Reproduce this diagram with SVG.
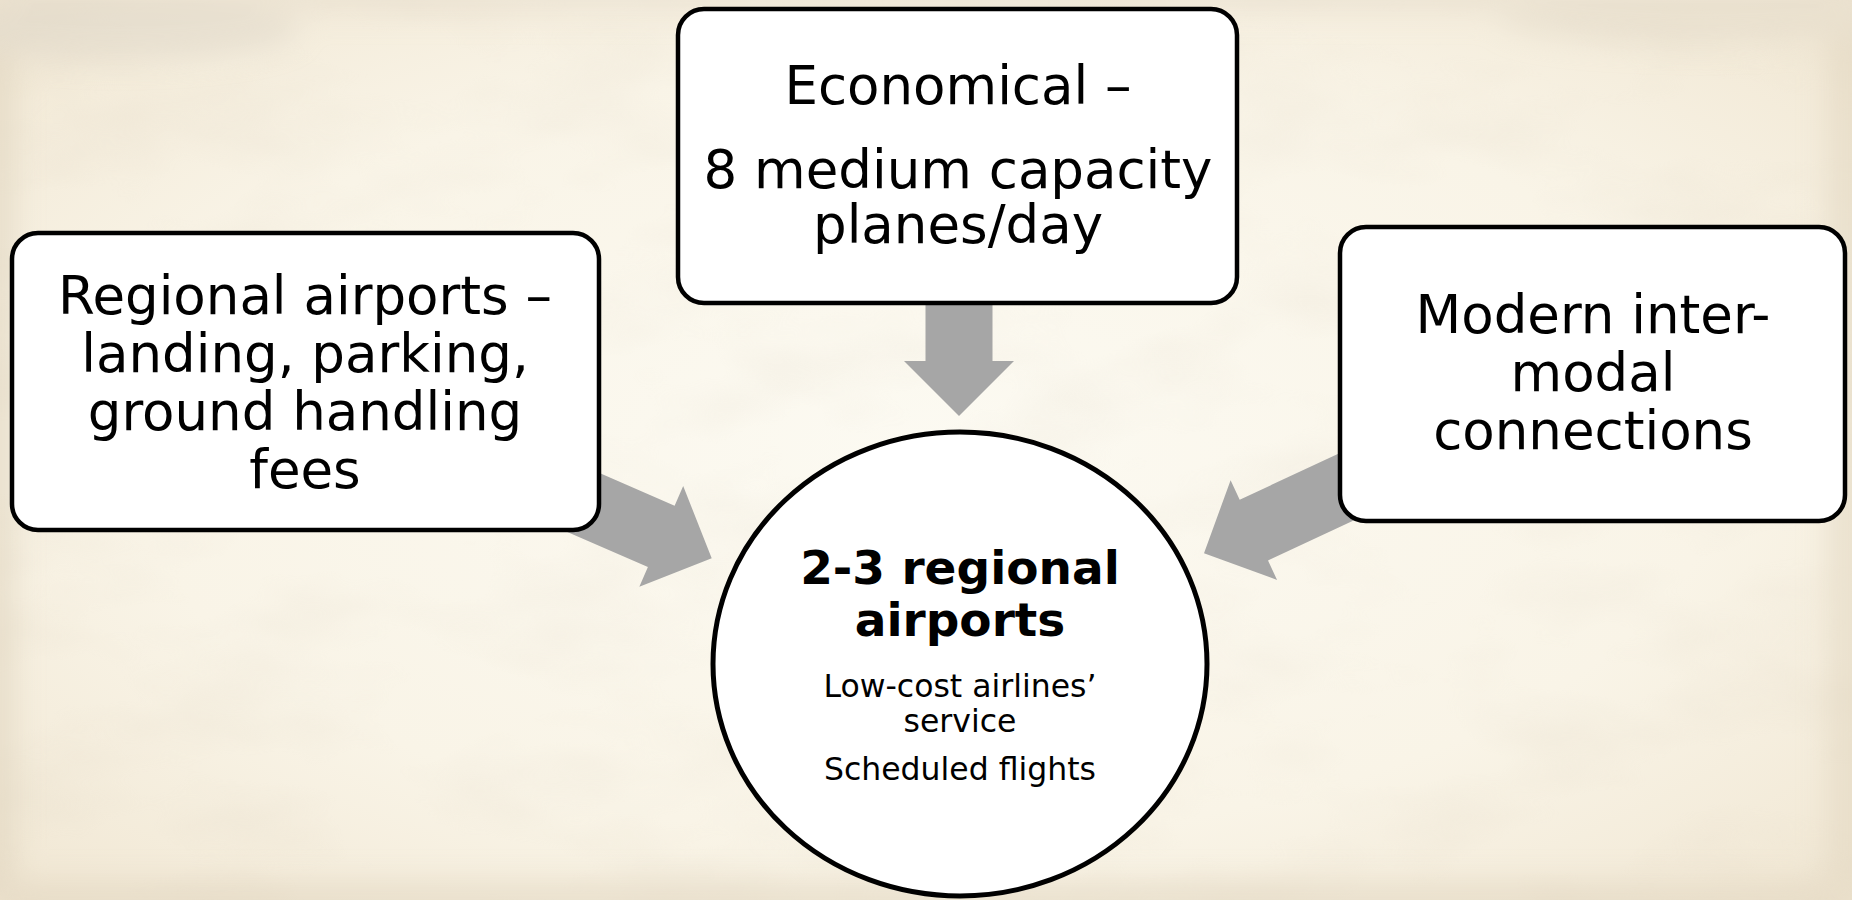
<svg xmlns="http://www.w3.org/2000/svg" width="1852" height="900" viewBox="0 0 1852 900">
<style>
.box { fill:#ffffff; stroke:#000000; stroke-width:4.5; }
.arr { fill:#A6A6A6; }
.t { font-family:"DejaVu Sans", Verdana, sans-serif; font-size:53px; fill:#000000; text-anchor:middle; }
.tb { font-weight:bold; font-size:47px; }
.ts { font-size:31.5px; }
</style>
<defs>
<radialGradient id="bgGrad" cx="0.5" cy="0.5" r="0.72">
<stop offset="0" stop-color="#FCFAF2"/>
<stop offset="0.6" stop-color="#F9F4E7"/>
<stop offset="1" stop-color="#F0E6D2"/>
</radialGradient>
<filter id="soft" x="-20%" y="-20%" width="140%" height="140%"><feGaussianBlur stdDeviation="14"/></filter>
<filter id="paper" x="0" y="0" width="100%" height="100%">
<feTurbulence type="fractalNoise" baseFrequency="0.006 0.012" numOctaves="3" seed="11"/>
<feColorMatrix type="matrix" values="0 0 0 0 0.70  0 0 0 0 0.62  0 0 0 0 0.50  1.3 0 0 0 -0.55"/>
</filter>
</defs>

<g id="background">
<rect x="0" y="0" width="1852" height="900" fill="url(#bgGrad)"/>
<rect x="0" y="0" width="1852" height="900" filter="url(#paper)" opacity="0.22"/>
<g filter="url(#soft)" opacity="0.5">
<rect x="-30" y="0" width="46" height="900" fill="#DDD1BB"/>
<rect x="0" y="880" width="1852" height="60" fill="#E0D4BE"/>
<rect x="1826" y="0" width="60" height="900" fill="#E0D4BE"/>
<rect x="0" y="-30" width="1852" height="44" fill="#E6DDCC"/>
<ellipse cx="120" cy="30" rx="180" ry="30" fill="#DDD5C7"/>
<ellipse cx="1700" cy="20" rx="200" ry="25" fill="#E2D9C8"/>
</g>
</g>

<g id="connectors">
<path class="arr" transform="translate(959,416) rotate(90)" d="M0,0 L-55,-55 L-55,-33.5 L-130,-33.5 L-130,33.5 L-55,33.5 L-55,55 Z"/>
<path class="arr" transform="translate(711.7,558.3) rotate(23.5)" d="M0,0 L-55,-55 L-55,-33.5 L-200,-33.5 L-200,33.5 L-55,33.5 L-55,55 Z"/>
<path class="arr" transform="translate(1204,553.3) rotate(155)" d="M0,0 L-55,-55 L-55,-33.5 L-200,-33.5 L-200,33.5 L-55,33.5 L-55,55 Z"/>
</g>

<g id="node-left">
<rect class="box" x="12" y="233" width="587" height="297" rx="26" ry="26"/>
<text class="t" x="305" y="314">Regional airports –</text>
<text class="t" x="305" y="372">landing, parking,</text>
<text class="t" x="305" y="430">ground handling</text>
<text class="t" x="305" y="488">fees</text>
</g>

<g id="node-top">
<rect class="box" x="678" y="9" width="559" height="294" rx="26" ry="26"/>
<text class="t" x="958" y="104">Economical –</text>
<text class="t" x="958" y="188">8 medium capacity</text>
<text class="t" x="958" y="243">planes/day</text>
</g>

<g id="node-right">
<rect class="box" x="1340" y="227" width="505" height="294" rx="26" ry="26"/>
<text class="t" x="1593" y="333">Modern inter-</text>
<text class="t" x="1593" y="391">modal</text>
<text class="t" x="1593" y="449">connections</text>
</g>

<g id="node-center">
<ellipse class="box" cx="960" cy="664" rx="247" ry="232" style="stroke-width:5"/>
<text class="t tb" x="960" y="584">2-3 regional</text>
<text class="t tb" x="960" y="636">airports</text>
<text class="t ts" x="960" y="697">Low-cost airlines’</text>
<text class="t ts" x="960" y="732">service</text>
<text class="t ts" x="960" y="780">Scheduled flights</text>
</g>
</svg>
